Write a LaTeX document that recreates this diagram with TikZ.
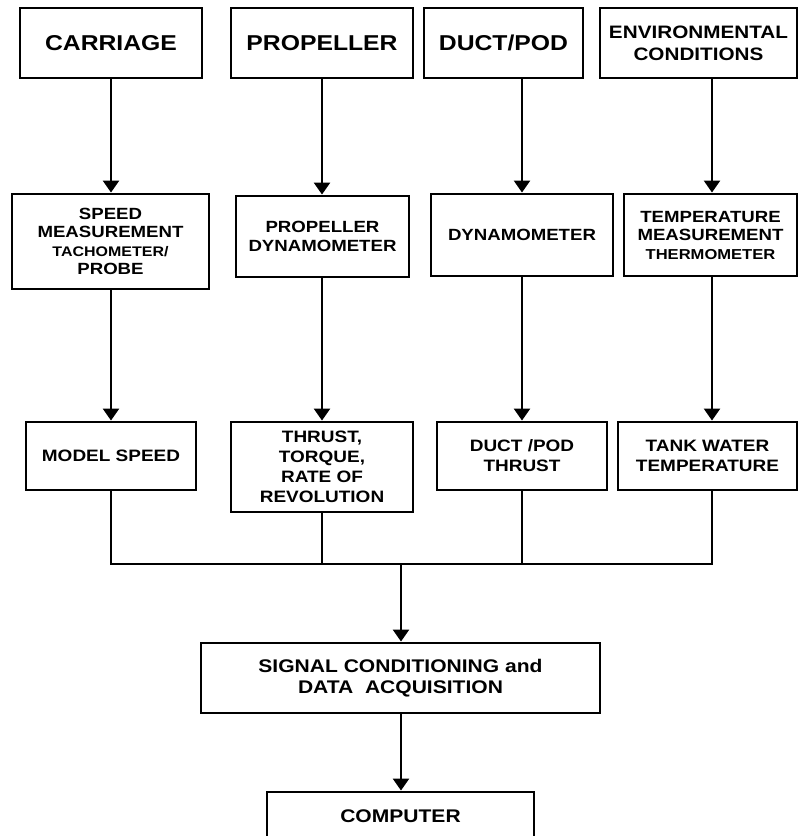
\documentclass[tikz,border=0pt]{standalone}
\usepackage{fontspec}
\setmainfont{Liberation Sans}[FakeStretch=1.15]
\usetikzlibrary{arrows.meta}
\begin{document}
\begin{tikzpicture}[x=1pt,y=-1pt,
  box/.style={draw, line width=2.9pt, inner sep=0pt, align=center},
  big/.style={font=\bfseries\fontsize{21.5pt}{24pt}\selectfont},
  envf/.style={font=\bfseries\fontsize{18pt}{21.7pt}\selectfont},
  mid/.style={font=\bfseries\fontsize{16.2pt}{18.5pt}\selectfont},
  rowc/.style={font=\bfseries\fontsize{16.5pt}{20pt}\selectfont},
  sig/.style={font=\bfseries\fontsize{18.3pt}{21pt}\selectfont},
  conn/.style={line width=2.5pt},
  arr/.style={conn, -{Triangle[width=16pt,length=12pt]}}
]
\useasboundingbox (0,0) rectangle (798,836);
\fill[white] (0,0) rectangle (798,836);
% column coordinates
\coordinate (c1) at (111,0);
\coordinate (c2) at (322,0);
\coordinate (c3) at (522,0);
\coordinate (c4) at (712,0);
\coordinate (bm) at (401,564);
% row 1
\node[box, big, minimum width=182pt, minimum height=70pt] (carriage) at (111,43) {CARRIAGE};
\node[box, big, minimum width=182pt, minimum height=70pt] (propeller) at (322,43) {PROPELLER};
\node[box, big, minimum width=159pt, minimum height=70pt] (duct) at (503.5,43) {DUCT/POD};
\node[box, envf, minimum width=197pt, minimum height=70pt] (env) at (698.5,43) {ENVIRONMENTAL\\CONDITIONS};
% row 2
\node[box, mid, minimum width=197pt, minimum height=95pt] (speed) at (110.5,241.5)
  {SPEED\\MEASUREMENT\\\fontsize{13.9pt}{18.5pt}\selectfont TACHOMETER/\\PROBE};
\node[box, mid, minimum width=173pt, minimum height=81pt] (pdyn) at (322.5,236.5) {PROPELLER\\DYNAMOMETER};
\node[box, mid, minimum width=182pt, minimum height=82pt] (dyn) at (522,235) {DYNAMOMETER};
\node[box, mid, minimum width=173pt, minimum height=82pt] (temp) at (710.5,235)
  {TEMPERATURE\\MEASUREMENT\\\fontsize{14.4pt}{18.5pt}\selectfont THERMOMETER};
% row 3
\node[box, rowc, minimum width=170pt, minimum height=68pt] (mspeed) at (111,456) {MODEL SPEED};
\node[box, rowc, minimum width=182pt, minimum height=90pt] (thrust) at (322,467) {THRUST,\\TORQUE,\\RATE OF\\REVOLUTION};
\node[box, rowc, minimum width=170pt, minimum height=68pt] (dthrust) at (522,456) {DUCT /POD\\THRUST};
\node[box, rowc, minimum width=179pt, minimum height=68pt] (tank) at (707.5,456) {TANK WATER\\TEMPERATURE};
% bottom
\node[box, sig, minimum width=399pt, minimum height=70pt] (signal) at (400.5,678) {SIGNAL CONDITIONING and\\DATA\ \ ACQUISITION};
\node[box, minimum width=267pt, minimum height=50pt] (computer) at (400.5,817) {};
\node[sig, inner sep=0pt] (comptext) at (400.5,816) {COMPUTER};
% arrows
\draw[arr] (carriage.south -| c1) -- (speed.north -| c1);
\draw[arr] (propeller.south -| c2) -- (pdyn.north -| c2);
\draw[arr] (duct.south -| c3) -- (dyn.north -| c3);
\draw[arr] (env.south -| c4) -- (temp.north -| c4);
\draw[arr] (speed.south -| c1) -- (mspeed.north -| c1);
\draw[arr] (pdyn.south -| c2) -- (thrust.north -| c2);
\draw[arr] (dyn.south -| c3) -- (dthrust.north -| c3);
\draw[arr] (temp.south -| c4) -- (tank.north -| c4);
% bus
\draw[conn] (mspeed.south -| c1) |- (bm -| c4) -- (tank.south -| c4);
\draw[conn] (thrust.south -| c2) -- (bm -| c2);
\draw[conn] (dthrust.south -| c3) -- (bm -| c3);
\draw[arr] (bm) -- (signal.north -| bm);
\draw[arr] (signal.south -| bm) -- (computer.north -| bm);
\end{tikzpicture}
\end{document}
